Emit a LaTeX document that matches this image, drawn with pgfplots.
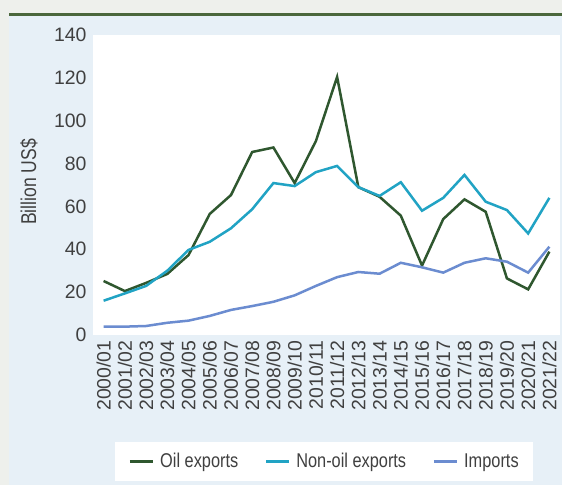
\documentclass[border=0pt]{standalone}
\usepackage{fontspec}
\setmainfont{Liberation Sans}
\newfontfamily\condfont[FakeStretch=0.82]{Liberation Sans}
\usepackage{pgfplots}
\usepackage{pgfplotstable}
\pgfplotsset{compat=1.18}
\definecolor{bggray}{RGB}{238,240,236}
\definecolor{panel}{RGB}{231,240,247}
\definecolor{rulegreen}{RGB}{74,103,60}
\definecolor{oilc}{RGB}{47,87,47}
\definecolor{nonoilc}{RGB}{33,163,196}
\definecolor{impc}{RGB}{107,140,208}
\definecolor{txt}{RGB}{64,64,64}
\pgfplotstableread{
idx oil nonoil imp
0 25.2 16.0 3.9
1 20.5 19.4 3.9
2 24.3 22.9 4.2
3 28.5 30.0 5.7
4 37.3 39.7 6.7
5 56.5 43.5 8.9
6 65.3 49.8 11.7
7 85.4 58.7 13.5
8 87.5 70.9 15.5
9 70.9 69.5 18.5
10 90.5 76.0 22.9
11 120.4 78.9 27.0
12 69.0 69.0 29.4
13 64.5 64.9 28.6
14 55.7 71.3 33.7
15 32.4 58.0 31.6
16 54.1 64.0 29.1
17 63.3 74.7 33.7
18 57.5 62.2 35.8
19 26.4 58.3 34.2
20 21.3 47.4 29.1
21 38.9 64.0 41.2
}\datatable
\begin{document}
\begin{tikzpicture}
\useasboundingbox (0,0) rectangle (562bp,485bp);
\fill[bggray] (0,0) rectangle (562bp,485bp);
\fill[panel] (9bp,0) rectangle (562bp,469bp);
\fill[rulegreen] (9bp,469bp) rectangle (562bp,472bp);
\begin{axis}[
  at={(93bp,150bp)}, anchor=south west,
  scale only axis, width=467bp, height=300bp,
  xmin=-0.5, xmax=21.5, ymin=0, ymax=140,
  ytick={0,20,...,140},
  xtick={0,...,21},
  xticklabels={2000/01,2001/02,2002/03,2003/04,2004/05,2005/06,2006/07,2007/08,2008/09,2009/10,2010/11,2011/12,2012/13,2013/14,2014/15,2015/16,2016/17,2017/18,2018/19,2019/20,2020/21,2021/22},
  axis line style={draw=none},
  major tick length=0pt,
  axis background/.style={fill=white},
  /pgf/number format/assume math mode=true,
  tick label style={font=\fontsize{19.5}{20}\selectfont, text=txt},
  yticklabel style={xshift=-3bp},
  xticklabel style={rotate=90, anchor=east, yshift=0bp, xshift=-2bp},
  ylabel={\condfont\fontsize{21.5}{23}\selectfont Billion US\$},
  ylabel style={at={(axis description cs:-0.137,0.51)}, rotate=0, anchor=center, text=txt},
  legend columns=3,
  legend style={at={(axis description cs:0.494,-0.4217)}, anchor=center,
    draw=none, fill=white, inner xsep=14bp, inner ysep=10bp,
    font=\condfont\fontsize{20}{22}\selectfont, text=txt,
    nodes={inner sep=0pt, text height=15bp, text depth=4bp},
    /tikz/every odd column/.append style={column sep=6bp},
    /tikz/every even column/.append style={column sep=26.5bp}},
  legend image code/.code={\draw[#1, line width=2.5bp] (0bp,0bp) -- (23bp,0bp);},
]
\addplot[oilc, line width=2.5bp] table[x=idx, y=oil] {\datatable};
\addlegendentry{Oil exports}
\addplot[nonoilc, line width=2.5bp] table[x=idx, y=nonoil] {\datatable};
\addlegendentry{Non-oil exports}
\addplot[impc, line width=2.5bp] table[x=idx, y=imp] {\datatable};
\addlegendentry{Imports}
\end{axis}
\end{tikzpicture}
\end{document}
